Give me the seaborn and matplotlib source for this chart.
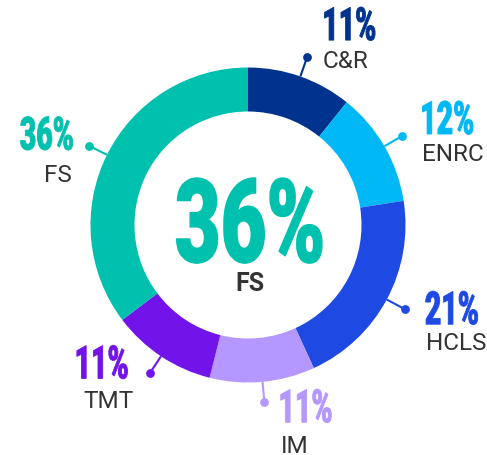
import matplotlib
matplotlib.use("Agg")
import matplotlib.pyplot as plt
import seaborn as sns
import numpy as np
from matplotlib.patheffects import AbstractPathEffect
from matplotlib.transforms import Affine2D

# ---- data ----
categories = ["C&R", "ENRC", "HCLS", "IM", "TMT", "FS"]
shares = [11, 12, 21, 11, 11, 36]
pct_labels = ["11%", "12%", "21%", "11%", "11%", "36%"]
colors = ["#00338D", "#00B8F5", "#1E49E2", "#B497FF", "#7213EA", "#00C0AE"]
highlight = "FS"

# ---- layout (image px, offsets from leader dot) ----
pct_offsets = [(15, -17, "left"), (18, -2, "left"), (20, 15, "left"),
               (14, 20, "left"), (-21, 5, "right"), (-15, 4, "right")]
name_offsets = [(15, 10, "left"), (20, 24, "left"), (21, 40, "left"),
                (16, 50, "left"), (-16, 34, "right"), (-17, 35, "right")]


class Tall(AbstractPathEffect):
    """Stretch glyphs vertically about the baseline (condensed look)."""

    def __init__(self, sy, stroke=0.0):
        super().__init__()
        self.sy, self.stroke = sy, stroke

    def draw_path(self, renderer, gc, tpath, affine, rgbFace=None):
        t = Affine2D().scale(1, self.sy) + affine
        gc0 = renderer.new_gc()
        gc0.copy_properties(gc)
        if self.stroke > 0:
            gc0.set_linewidth(self.stroke)
            gc0.set_foreground(rgbFace)
            gc0.set_joinstyle("round")
        renderer.draw_path(gc0, tpath, t, rgbFace)
        gc0.restore()


sns.set_theme(style="white")
plt.rcParams["font.family"] = ["Roboto", "DejaVu Sans"]

W, H = 487, 456
fig = plt.figure(figsize=(W / 100, H / 100), dpi=100)
ax = fig.add_axes([0, 0, 1, 1])

cx, cy = 248, H - 226
R_out, ring = 157.5, 44
r_dot = 178

wedges, _ = ax.pie(shares, colors=colors, startangle=90, counterclock=False,
                   radius=R_out, center=(cx, cy),
                   wedgeprops=dict(width=ring, linewidth=0))
ax.set_xlim(0, W)
ax.set_ylim(0, H)
ax.set_aspect("equal")
ax.axis("off")

for i, w in enumerate(wedges):
    ang = np.deg2rad((w.theta1 + w.theta2) / 2)
    c, s = np.cos(ang), np.sin(ang)
    x0, y0 = cx + R_out * c, cy + R_out * s
    x1, y1 = cx + r_dot * c, cy + r_dot * s
    ax.plot([x0, x1], [y0, y1], color=colors[i], lw=1.5, solid_capstyle="butt")
    ax.plot([x1], [y1], "o", color=colors[i], ms=6.3, mew=0)
    dx, dy, ha = pct_offsets[i]
    ax.text(x1 + dx, y1 - dy, pct_labels[i], color=colors[i],
            fontsize=20.5, fontweight="black", ha=ha, va="baseline",
            path_effects=[Tall(1 / 0.62, 0.6)])
    dx, dy, ha = name_offsets[i]
    ax.text(x1 + dx, y1 - dy, categories[i], color="#333333", fontsize=17.5,
            fontweight="normal", ha=ha, va="baseline")

hi = categories.index(highlight)
ax.text(250, H - 263, pct_labels[hi], color=colors[hi], fontsize=57,
        fontweight="black", ha="center", va="baseline",
        path_effects=[Tall(1 / 0.68, 1.0)])
ax.text(250, H - 291, highlight, color="#333333", fontsize=18,
        fontweight="bold", ha="center", va="baseline")

fig.savefig("out.png", dpi=100)
